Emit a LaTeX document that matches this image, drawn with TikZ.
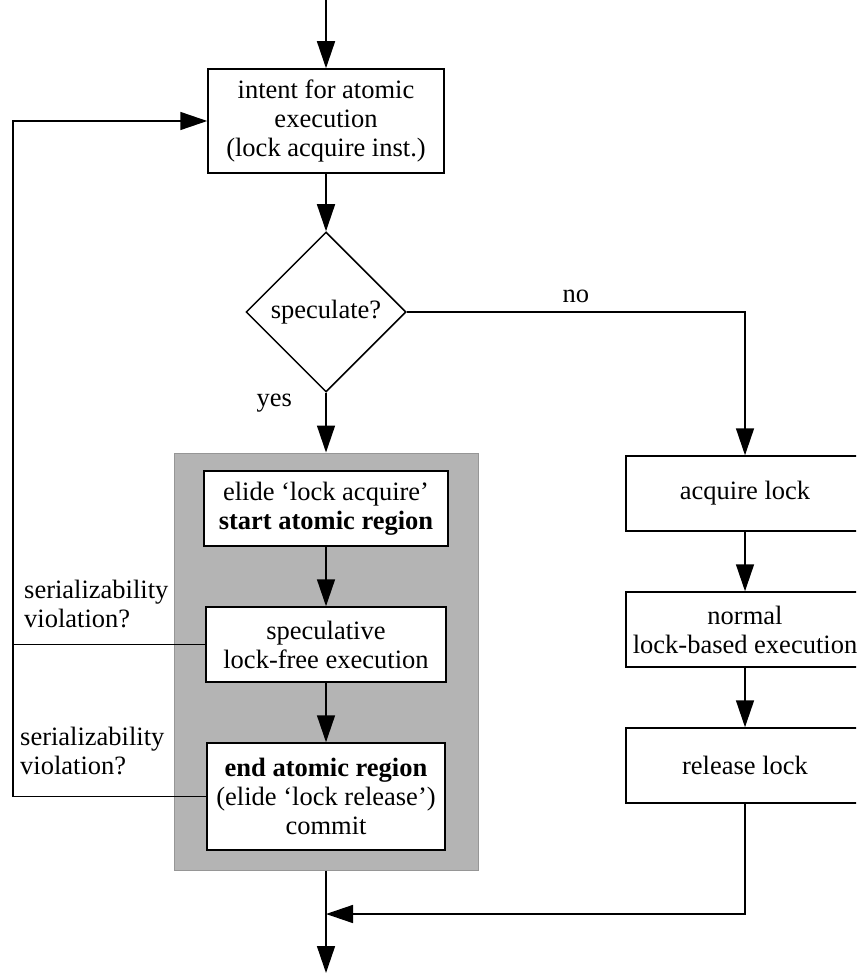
\documentclass[tikz,border=0pt]{standalone}
\usepackage{fontspec}
\setmainfont{Liberation Serif}
\usetikzlibrary{arrows.meta,shapes.geometric}
\definecolor{regiongray}{RGB}{180,180,180}
\definecolor{regionedge}{RGB}{150,150,150}
\begin{document}
\begin{tikzpicture}[x=1pt,y=-1pt,
    every node/.style={font=\fontsize{26.5}{29}\selectfont},
    box/.style={draw,line width=1.5pt,fill=white,align=center,inner sep=0pt},
    flow/.style={line width=1.5pt,-{Triangle[length=27pt,width=18pt]}},
    edge/.style={line width=1.5pt}]
    \useasboundingbox (0,0) rectangle (856,973);
    \clip (0,0) rectangle (856,973);
    % left column
    \node[box, minimum width=236pt, minimum height=104pt] (intent) at (326,121) {intent for atomic\\execution\\(lock acquire inst.)};
    \node[draw, diamond, aspect=1, line width=1.5pt, inner sep=0pt, minimum width=160pt, minimum height=160pt] (decide) at (326,312) {speculate?};
    \node[draw=regionedge, fill=regiongray, line width=1pt, inner sep=0pt, minimum width=304pt, minimum height=417pt] (region) at (326,661.5) {};
    \node[box, minimum width=244pt, minimum height=75pt] (elide) at (326,508.5) {elide `lock acquire'\\\textbf{start atomic region}};
    \node[box, minimum width=240pt, minimum height=75pt] (lockfree) at (326,644.5) {speculative\\lock-free execution};
    \node[box, minimum width=238pt, minimum height=107pt] (endreg) at (326,796.5) {\textbf{end atomic region}\\(elide `lock release')\\commit};
    % right column
    \node[box, minimum width=238pt, minimum height=75pt] (acquire) at (745,493.5) {acquire lock};
    \node[box, minimum width=238pt, minimum height=75pt] (normal) at (745,629.5) {normal\\lock-based execution};
    \node[box, minimum width=238pt, minimum height=75pt] (release) at (745,765.5) {release lock};
    % labels
    \node[align=left, anchor=north west, inner sep=0pt] (viol1) at (24,580) {serializability\\violation?};
    \node[align=left, anchor=north west, inner sep=0pt] (viol2) at (20,727) {serializability\\violation?};
    % connectors
    \coordinate (entry) at (326,0);
    \coordinate (exit) at (326,973);
    \coordinate (loop) at (13,0);
    \coordinate (merge) at (326,914);
    \draw[flow] (entry) -- (intent.north);
    \draw[flow] (intent.south) -- (decide.north);
    \draw[flow] (decide.south) -- node[pos=0.18, left=30pt] {yes} (region.north);
    \draw[flow] (decide.east) -| node[pos=0.25, above=5pt] {no} (acquire.north);
    \draw[flow] (elide.south) -- (lockfree.north);
    \draw[flow] (lockfree.south) -- (endreg.north);
    \draw[flow] (acquire.south) -- (normal.north);
    \draw[flow] (normal.south) -- (release.north);
    \draw[flow] (region.south) -- (exit);
    \draw[flow] (release.south) |- (merge);
    \draw[edge] (endreg.west) -- (endreg.west -| loop) -- (lockfree.west -| loop);
    \draw[flow] (lockfree.west) -- (lockfree.west -| loop) |- (intent.west);
\end{tikzpicture}
\end{document}
